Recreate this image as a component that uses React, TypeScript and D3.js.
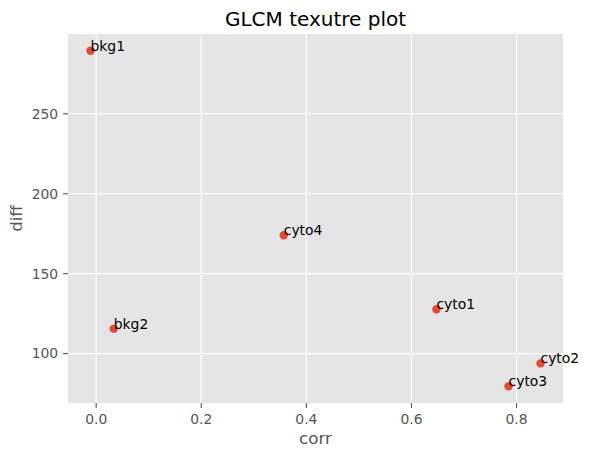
import React from "react";
import * as d3 from "d3";

const labels = ["bkg1", "bkg2", "cyto1", "cyto2", "cyto3", "cyto4"];
const corrValues = [-0.0108, 0.0334, 0.6476, 0.8456, 0.7848, 0.357];
const diffValues = [289.4, 115.6, 127.7, 93.9, 79.6, 174.0];
const xTicks = [0.0, 0.2, 0.4, 0.6, 0.8];
const yTicks = [100, 150, 200, 250];

const W = 589;
const H = 457;
const M = { left: 68, right: 563, top: 34, bottom: 403 };
const FONT = "DejaVu Sans, sans-serif";

export default function App() {
  const xExt = d3.extent(corrValues) as [number, number];
  const yExt = d3.extent(diffValues) as [number, number];
  const xPad = (xExt[1] - xExt[0]) * 0.05;
  const yPad = (yExt[1] - yExt[0]) * 0.05;
  const x = d3.scaleLinear().domain([xExt[0] - xPad, xExt[1] + xPad]).range([M.left, M.right]);
  const y = d3.scaleLinear().domain([yExt[0] - yPad, yExt[1] + yPad]).range([M.bottom, M.top]);
  const cx = (M.left + M.right) / 2;
  const cy = (M.top + M.bottom) / 2;

  return (
    <svg width={W} height={H} style={{ position: "absolute", left: 0, top: 0, background: "#fff" }} fontFamily={FONT}>
      <rect x={M.left} y={M.top} width={M.right - M.left} height={M.bottom - M.top} fill="#E5E5E5" />
      {xTicks.map((t) => (
        <line key={"gx" + t} x1={x(t)} x2={x(t)} y1={M.top} y2={M.bottom} stroke="#fff" strokeWidth={1.1} />
      ))}
      {yTicks.map((t) => (
        <line key={"gy" + t} x1={M.left} x2={M.right} y1={y(t)} y2={y(t)} stroke="#fff" strokeWidth={1.1} />
      ))}
      {xTicks.map((t) => (
        <g key={"tx" + t}>
          <line x1={x(t)} x2={x(t)} y1={M.bottom} y2={M.bottom + 4.9} stroke="#555555" strokeWidth={1.1} />
          <text x={x(t)} y={M.bottom + 21} textAnchor="middle" fontSize={13.9} fill="#555555">
            {d3.format(".1f")(t)}
          </text>
        </g>
      ))}
      {yTicks.map((t) => (
        <g key={"ty" + t}>
          <line x1={M.left - 4.9} x2={M.left} y1={y(t)} y2={y(t)} stroke="#555555" strokeWidth={1.1} />
          <text x={M.left - 9.8} y={y(t)} dy="0.35em" textAnchor="end" fontSize={13.9} fill="#555555">
            {t}
          </text>
        </g>
      ))}
      {labels.map((l, i) => (
        <g key={l}>
          <circle cx={x(corrValues[i])} cy={y(diffValues[i])} r={4.2} fill="#E24A33" />
          <text x={x(corrValues[i])} y={y(diffValues[i])} fontSize={13.9} fill="#000">
            {l}
          </text>
        </g>
      ))}
      <text x={cx} y={26} textAnchor="middle" fontSize={20} fill="#000">
        GLCM texutre plot
      </text>
      <text x={cx} y={444} textAnchor="middle" fontSize={16.7} fill="#555555">
        corr
      </text>
      <text transform={`translate(22,${cy}) rotate(-90)`} textAnchor="middle" fontSize={16.7} fill="#555555">
        diff
      </text>
    </svg>
  );
}
